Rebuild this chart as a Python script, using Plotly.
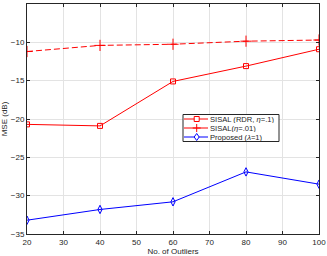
import plotly.graph_objects as go

x_vals = [20, 40, 60, 80, 100]
sisal_rdr = [-20.7, -20.9, -15.1, -13.1, -10.9]
sisal_eta = [-11.2, -10.4, -10.25, -9.85, -9.7]
proposed = [-33.2, -31.8, -30.8, -26.9, -28.5]
series_names = ["SISAL (RDR, <i>η</i>=.1)", "SISAL(<i>η</i>=.01)", "Proposed (<i>λ</i>=1)"]

RED = "#ff0000"
BLUE = "#0000ff"
INK = "#262626"
W, H = 327, 256
L, R, T, B = 27, 8, 4, 22
PW, PH = W - L - R, H - T - B

def px(xp):
    return (xp - L) / PW

def py(yp):
    return (H - B - yp) / PH

fig = go.Figure()
fig.add_trace(go.Scatter(x=x_vals, y=sisal_rdr, mode="lines+markers", name=series_names[0],
    line=dict(color=RED, width=1),
    marker=dict(symbol="square-open", size=5, color=RED, line=dict(width=1))))
fig.add_trace(go.Scatter(x=x_vals, y=sisal_eta, mode="lines+markers", name=series_names[1],
    line=dict(color=RED, width=1, dash="6px,3px"),
    marker=dict(symbol="cross-thin-open", size=8, color=RED, line=dict(width=1, color=RED))))
fig.add_trace(go.Scatter(x=x_vals, y=proposed, mode="lines+markers", name=series_names[2],
    line=dict(color=BLUE, width=1),
    marker=dict(symbol="diamond-tall-open", size=6, color=BLUE, line=dict(width=1))))

axis_common = dict(showgrid=True, gridcolor="#e3e3e3", gridwidth=1,
                   showline=True, linecolor=INK, linewidth=1, mirror="ticks",
                   ticks="inside", ticklen=3, tickcolor=INK,
                   tickfont=dict(size=8, color=INK, family="Liberation Sans"),
                   zeroline=False, automargin=False)
fig.update_xaxes(range=[20, 100], dtick=10,
                 title=dict(text="No. of Outliers", font=dict(size=8, color=INK), standoff=1), **axis_common)
fig.update_yaxes(range=[-35, -5], dtick=5,
                 title=dict(text="MSE (dB)", font=dict(size=8, color=INK), standoff=3), **axis_common)

# custom compact legend (MATLAB style box)
shapes = []
annotations = []
shapes.append(dict(type="rect", xref="paper", yref="paper",
                   x0=px(183), x1=px(279), y0=py(141.5), y1=py(114.5),
                   line=dict(color=INK, width=1), fillcolor="white", layer="above"))
rows = [119.0, 128.0, 137.0]
styles = [
    (RED, "solid", "square"),
    (RED, "solid", "cross"),
    (BLUE, "solid", "diamond"),
]
for (col, dash, mk), ry, nm in zip(styles, rows, series_names):
    shapes.append(dict(type="line", xref="paper", yref="paper",
                       x0=px(184), x1=px(208), y0=py(ry), y1=py(ry),
                       line=dict(color=col, width=1, dash=dash), layer="above"))
    cx = 196.7
    if mk == "square":
        shapes.append(dict(type="rect", xref="paper", yref="paper",
                           x0=px(cx - 2.5), x1=px(cx + 2.5), y0=py(ry + 2.5), y1=py(ry - 2.5),
                           line=dict(color=col, width=1), fillcolor="white", layer="above"))
    elif mk == "cross":
        shapes.append(dict(type="line", xref="paper", yref="paper",
                           x0=px(cx), x1=px(cx), y0=py(ry + 4), y1=py(ry - 4),
                           line=dict(color=col, width=1), layer="above"))
        shapes.append(dict(type="line", xref="paper", yref="paper",
                           x0=px(cx - 4), x1=px(cx + 4), y0=py(ry), y1=py(ry),
                           line=dict(color=col, width=1), layer="above"))
    else:
        path = "M {},{} L {},{} L {},{} L {},{} Z".format(
            px(cx), py(ry - 3.5), px(cx + 2.5), py(ry), px(cx), py(ry + 3.5), px(cx - 2.5), py(ry))
        shapes.append(dict(type="path", xref="paper", yref="paper", path=path,
                           line=dict(color=col, width=1), fillcolor="white", layer="above"))
    annotations.append(dict(xref="paper", yref="paper", x=px(208.5), y=py(ry),
                            xanchor="left", yanchor="middle", showarrow=False,
                            height=7, borderpad=0, valign="middle",
                            text=nm, font=dict(size=7.6, color=INK, family="Liberation Sans")))

fig.update_layout(width=W, height=H, margin=dict(l=L, r=R, t=T, b=B),
    plot_bgcolor="white", paper_bgcolor="white",
    font=dict(family="Liberation Sans", size=8, color=INK),
    showlegend=False, shapes=shapes, annotations=annotations)

fig.write_html("out.html", config={"displayModeBar": False},
               post_script="document.body.style.margin='0';document.body.style.overflow='hidden';")
